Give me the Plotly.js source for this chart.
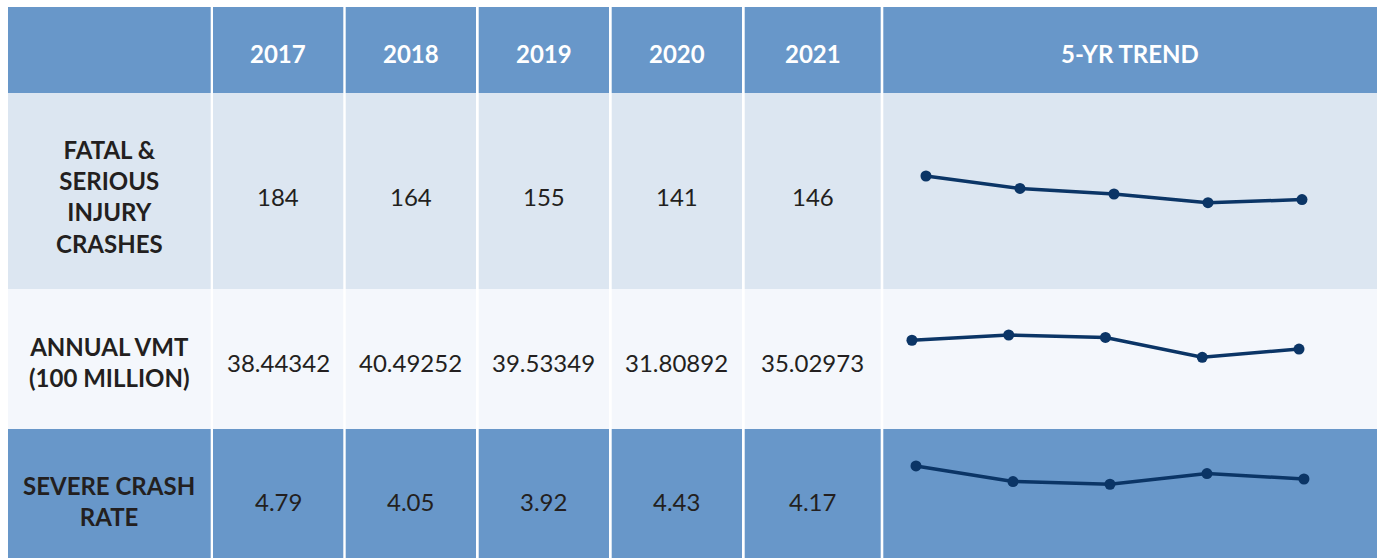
<!DOCTYPE html>
<html>
<head>
<meta charset="utf-8">
<script src="https://cdn.plot.ly/plotly-3.0.1.min.js"></script>
<style>html,body{margin:0;padding:0;background:#fff;}#chart{width:1377px;height:558px;}</style>
</head>
<body>
<div id="chart"></div>
<script>
// ---- data ----
const years = [2017, 2018, 2019, 2020, 2021];
const headerLabels = ['2017', '2018', '2019', '2020', '2021', '5-YR TREND'];
const rowLabels = ['FATAL &<br>SERIOUS<br>INJURY<br>CRASHES', 'ANNUAL VMT<br>(100 MILLION)', 'SEVERE CRASH<br>RATE'];
const fatalSerious = [184, 164, 155, 141, 146];
const annualVMT = [38.44342, 40.49252, 39.53349, 31.80892, 35.02973];
const severeRate = [4.79, 4.05, 3.92, 4.43, 4.17];
const rowValues = [fatalSerious, annualVMT, severeRate];
const rowText = [
  ['184', '164', '155', '141', '146'],
  ['38.44342', '40.49252', '39.53349', '31.80892', '35.02973'],
  ['4.79', '4.05', '3.92', '4.43', '4.17']
];

// ---- layout geometry (pixels) ----
const W = 1377, H = 558;
const colEdges = [[8, 210.7], [213, 343.3], [345.7, 476], [478.7, 609], [611.7, 742], [744.7, 880.7], [883.3, 1377]];
const rowEdges = [[7, 93], [93, 289], [289, 429], [429, 558]];
const rowFill = ['#6897c9', '#dce6f1', '#f4f7fc', '#6897c9'];
const textY = [53, 196, 362, 501];
const sparkX = [[2016.546, 2021.798], [2016.704, 2021.806], [2016.663, 2021.753]];
const sparkY = [[2.0, 317.7], [3.9, 58.4], [0.41, 6.55]];
const lineColor = '#0b3566';
const FONT = 'Lato, "Open Sans", sans-serif';

const shapes = [];
rowEdges.forEach((r, ri) => {
  colEdges.forEach(c => {
    shapes.push({type: 'rect', xref: 'x', yref: 'y', x0: c[0], x1: c[1], y0: r[0], y1: r[1],
      fillcolor: rowFill[ri], line: {width: 0}, layer: 'below'});
  });
});

const annotations = [];
const centers = colEdges.map(c => (c[0] + c[1]) / 2);
headerLabels.forEach((t, i) => {
  annotations.push({xref: 'x', yref: 'y', x: centers[i + 1], y: textY[0], text: t, showarrow: false,
    font: {family: FONT, size: 24, color: '#ffffff', weight: 'bold'}, xanchor: 'center', yanchor: 'middle'});
});
rowLabels.forEach((t, ri) => {
  annotations.push({xref: 'x', yref: 'y', x: 109, y: textY[ri + 1], text: '<b>' + t + '</b>', showarrow: false,
    font: {family: FONT, size: 24, color: '#231f20'}, xanchor: 'center', yanchor: 'middle', align: 'center'});
  rowText[ri].forEach((t2, ci) => {
    annotations.push({xref: 'x', yref: 'y', x: centers[ci + 1], y: textY[ri + 1], text: t2, showarrow: false,
      font: {family: FONT, size: 24, color: '#231f20'}, xanchor: 'center', yanchor: 'middle'});
  });
});

const traces = [{x: [0], y: [0], xaxis: 'x', yaxis: 'y', mode: 'markers', marker: {opacity: 0}, hoverinfo: 'skip', showlegend: false}];
const layout = {
  width: W, height: H, margin: {l: 0, r: 0, t: 0, b: 0},
  paper_bgcolor: '#ffffff', plot_bgcolor: 'rgba(0,0,0,0)', showlegend: false,
  xaxis: {range: [0, W], domain: [0, 1], visible: false, fixedrange: true},
  yaxis: {range: [H, 0], domain: [0, 1], visible: false, fixedrange: true},
  shapes: shapes, annotations: annotations
};
rowValues.forEach((vals, ri) => {
  const n = ri + 2;
  traces.push({x: years, y: vals, xaxis: 'x' + n, yaxis: 'y' + n, mode: 'lines+markers',
    line: {color: lineColor, width: 3.5}, marker: {color: lineColor, size: 11}, showlegend: false, hoverinfo: 'x+y'});
  const r = rowEdges[ri + 1];
  layout['xaxis' + n] = {domain: [colEdges[6][0] / W, colEdges[6][1] / W], range: sparkX[ri], visible: false, anchor: 'y' + n, fixedrange: true};
  layout['yaxis' + n] = {domain: [(H - r[1]) / H, (H - r[0]) / H], range: sparkY[ri], visible: false, anchor: 'x' + n, fixedrange: true};
});

Plotly.newPlot('chart', traces, layout, {displayModeBar: false, staticPlot: true});
</script>
</body>
</html>
